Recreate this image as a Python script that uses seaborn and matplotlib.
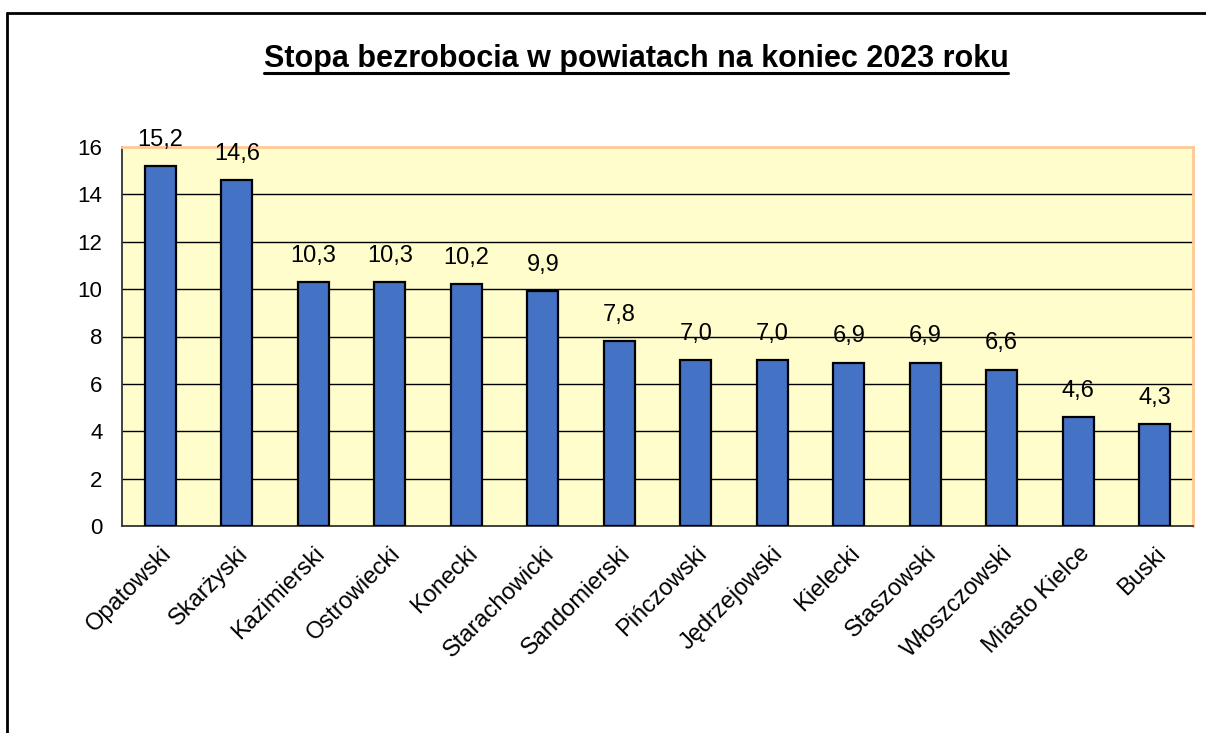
import matplotlib
matplotlib.use('Agg')
import matplotlib.pyplot as plt
from matplotlib.lines import Line2D
import seaborn as sns
import pandas as pd

# data
powiaty = ['Opatowski', 'Skarżyski', 'Kazimierski', 'Ostrowiecki', 'Konecki',
           'Starachowicki', 'Sandomierski', 'Pińczowski', 'Jędrzejowski',
           'Kielecki', 'Staszowski', 'Włoszczowski', 'Miasto Kielce', 'Buski']
stopa = [15.2, 14.6, 10.3, 10.3, 10.2, 9.9, 7.8, 7.0, 7.0, 6.9, 6.9, 6.6, 4.6, 4.3]
yticks = [0, 2, 4, 6, 8, 10, 12, 14, 16]
title = 'Stopa bezrobocia w powiatach na koniec 2023 roku'

df = pd.DataFrame({'powiat': powiaty, 'stopa': stopa})

sns.set_style('white')
plt.rcParams['font.family'] = ['Liberation Sans', 'DejaVu Sans']
plt.rcParams['text.color'] = 'black'
plt.rcParams['xtick.color'] = 'black'
plt.rcParams['ytick.color'] = 'black'
plt.rcParams['xtick.labelcolor'] = 'black'
plt.rcParams['ytick.labelcolor'] = 'black'

W, H = 1206, 733
fig = plt.figure(figsize=(W / 100, H / 100), dpi=100)
ax = fig.add_axes([122 / W, 1 - 526 / H, (1193 - 122) / W, (526 - 147) / H])
ax.set_facecolor('#FFFDCC')

sns.barplot(data=df, x='powiat', y='stopa', color='#4472C4', width=0.41,
            edgecolor='black', linewidth=1.6, saturation=1, ax=ax, zorder=3)

# labels above bars
for i, v in enumerate(stopa):
    ax.annotate(f'{v:.1f}'.replace('.', ','), (i, v), xytext=(0, 11),
                textcoords='offset points', ha='center', va='bottom',
                fontsize=17, color='black')

ax.set_ylim(0, 16)
ax.set_xlim(-0.5, len(powiaty) - 0.5)
ax.set_yticks(yticks)
ax.set_yticklabels([str(t) for t in yticks], fontsize=16)
for t in yticks[1:-1]:
    ax.axhline(t, color='black', lw=1.0, zorder=1)

# category ticks sit between the bars, labels at bar centres
ax.set_xticks([i - 0.5 for i in range(len(powiaty) + 1)])
ax.set_xticklabels([])
ax.set_xticks(range(len(powiaty)), minor=True)
ax.set_xticklabels(powiaty, minor=True, rotation=45, ha='right',
                   rotation_mode='anchor', fontsize=17)
ax.tick_params(axis='x', which='major', direction='out', length=7, width=1.2, color='#333333')
ax.tick_params(axis='x', which='minor', length=0, pad=12)
ax.tick_params(axis='y', direction='out', length=7, width=1.2, color='#333333', pad=7)
ax.set_xlabel('')
ax.set_ylabel('')

for side in ['top', 'right']:
    ax.spines[side].set_color('#FFC896')
    ax.spines[side].set_linewidth(2)
for side in ['left', 'bottom']:
    ax.spines[side].set_color('#333333')
    ax.spines[side].set_linewidth(1.3)

# title with underline
t = fig.text(636 / W, 1 - 59 / H, title, ha='center', va='center',
             fontsize=22, fontweight='bold', color='black')
fig.canvas.draw()
bb = t.get_window_extent().transformed(fig.transFigure.inverted())
fig.add_artist(Line2D([bb.x0, bb.x1], [bb.y0 + 0.001, bb.y0 + 0.001],
                      color='black', lw=2.2, transform=fig.transFigure))

# outer chart frame (cut off at right and bottom)
fig.add_artist(Line2D([7 / W, 7 / W], [0, 1 - 13 / H], color='black', lw=2,
                      transform=fig.transFigure))
fig.add_artist(Line2D([7 / W, 1], [1 - 13 / H, 1 - 13 / H], color='black', lw=2,
                      transform=fig.transFigure))

fig.savefig('out.png', dpi=100)
